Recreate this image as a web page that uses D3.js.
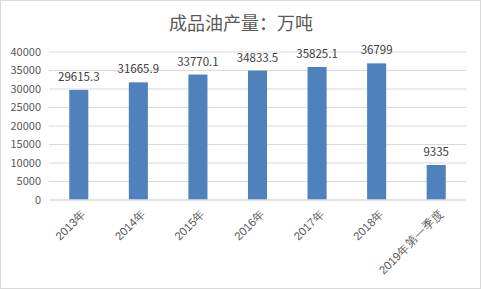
<!DOCTYPE html>
<html>
<head>
<meta charset="utf-8">
<script src="https://cdn.jsdelivr.net/npm/d3@7"></script>
<style>
  body { margin: 0; background: #fff; }
  svg { display: block; font-family: "Noto Sans CJK SC", "DejaVu Sans", sans-serif; }
</style>
</head>
<body>
<div id="chart"></div>
<script>
var categories = ["2013年", "2014年", "2015年", "2016年", "2017年", "2018年", "2019年第一季度"];
var values = [29615.3, 31665.9, 33770.1, 34833.5, 35825.1, 36799, 9335];
var valueLabels = ["29615.3", "31665.9", "33770.1", "34833.5", "35825.1", "36799", "9335"];
var yTicks = [0, 5000, 10000, 15000, 20000, 25000, 30000, 35000, 40000];
var title = "成品油产量：万吨";

var width = 481, height = 289;
var padding = {left: 49, right: 15, top: 51.5, bottom: 89.5};

var svg = d3.select("#chart").append("svg")
	.attr("width", width)
	.attr("height", height);

svg.append("rect")
	.attr("x", 0.5).attr("y", 0.5)
	.attr("width", width - 1).attr("height", height - 1)
	.attr("fill", "#fff")
	.attr("stroke", "#d9d9d9");

svg.append("text")
	.attr("x", 241)
	.attr("y", 30)
	.attr("text-anchor", "middle")
	.attr("font-size", 18)
	.attr("fill", "#595959")
	.text(title);

var xScale = d3.scaleBand()
	.domain(categories)
	.range([padding.left, width - padding.right])
	.paddingInner(0.68)
	.paddingOuter(0.34);

var yScale = d3.scaleLinear()
	.domain([0, 40000])
	.range([height - padding.bottom, padding.top]);

// grid lines
var yAxis = d3.axisLeft(yScale)
	.tickValues(yTicks)
	.tickFormat(d3.format("d"))
	.tickSize(-(width - padding.left - padding.right))
	.tickPadding(8);

var yG = svg.append("g")
	.attr("transform", "translate(" + padding.left + ",0)")
	.call(yAxis);
yG.select(".domain").remove();
yG.selectAll("line").attr("stroke", "#d9d9d9");
yG.selectAll("text")
	.attr("font-size", 11)
	.attr("fill", "#595959")
	.attr("font-family", "Noto Sans CJK SC, sans-serif");

// bars
svg.selectAll(".bar")
	.data(values)
	.enter()
	.append("rect")
	.attr("class", "bar")
	.attr("x", function(d, i){ return xScale(categories[i]); })
	.attr("y", function(d){ return yScale(d); })
	.attr("width", xScale.bandwidth())
	.attr("height", function(d){ return yScale(0) - yScale(d); })
	.attr("fill", "#4f81bd");

// value labels
svg.selectAll(".vlabel")
	.data(values)
	.enter()
	.append("text")
	.attr("class", "vlabel")
	.attr("x", function(d, i){ return xScale(categories[i]) + xScale.bandwidth() / 2; })
	.attr("y", function(d){ return yScale(d) - 9; })
	.attr("text-anchor", "middle")
	.attr("font-size", 11.5)
	.attr("fill", "#404040")
	.text(function(d, i){ return valueLabels[i]; });

// x axis
var xAxis = d3.axisBottom(xScale).tickSize(0).tickPadding(0);
var xG = svg.append("g")
	.attr("transform", "translate(0," + (height - padding.bottom) + ")")
	.call(xAxis);
xG.select(".domain").attr("stroke", "#d9d9d9");
xG.selectAll("text")
	.attr("font-size", 11.5)
	.attr("fill", "#595959")
	.attr("text-anchor", "end")
	.attr("dy", null)
	.attr("y", 0)
	.attr("transform", "translate(8,15) rotate(-45)");
</script>
</body>
</html>
